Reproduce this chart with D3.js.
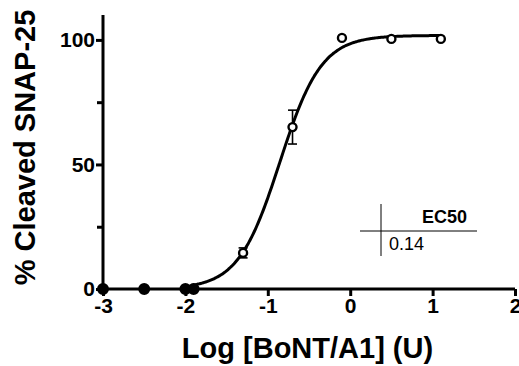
<!DOCTYPE html>
<html>
<head>
<meta charset="utf-8">
<script src="https://cdn.jsdelivr.net/npm/d3@7"></script>
<style>
  body { margin: 0; background: #fff; }
  text { font-family: "Liberation Sans", Arial, sans-serif; }
</style>
</head>
<body>
<div id="chart"></div>
<script>
const W = 519, H = 366;

// measured points: log dose, % cleaved, SEM
const logDose = [-3, -2.5, -2.0, -1.9, -1.3, -0.7, -0.1, 0.5, 1.1];
const cleaved = [0, 0, 0, 0, 14.5, 65, 100.8, 100.4, 100.4];
const sem = [0, 0, 0, 0, 2, 6.8, 0, 0, 0];

// 4PL fit
const fitBottom = 0, fitTop = 101.8, logEC50 = Math.log10(0.14), hill = 1.72;
const fitRange = [-1.92, 1.1];

const xTicks = [-3, -2, -1, 0, 1, 2];
const yTicks = [0, 50, 100];
const yMinor = [25, 75];

const x = d3.scaleLinear().domain([-3, 2]).range([103, 515]);
const y = d3.scaleLinear().domain([0, 110]).range([289, 15]);

const svg = d3.select("#chart").append("svg")
  .attr("width", W).attr("height", H);

const fit = v => fitBottom + (fitTop - fitBottom) / (1 + Math.pow(10, (logEC50 - v) * hill));
const curvePts = d3.range(0, 201).map(i => {
  const v = fitRange[0] + (fitRange[1] - fitRange[0]) * i / 200;
  return [v, fit(v)];
});

// axes
const yAxis = svg.append("g")
  .attr("transform", `translate(${x(-3)},0)`)
  .call(d3.axisLeft(y).tickValues(yTicks).tickSize(7).tickPadding(1).tickFormat(d => String(d)));
svg.append("g")
  .attr("transform", `translate(${x(-3)},0)`)
  .call(d3.axisLeft(y).tickValues(yMinor).tickSize(6).tickFormat(""))
  .call(g => g.select(".domain").remove());
const xAxis = svg.append("g")
  .attr("transform", `translate(0,${y(0)})`)
  .call(d3.axisBottom(x).tickValues(xTicks).tickSize(7).tickPadding(2).tickFormat(d => String(d)));

svg.selectAll(".domain").attr("stroke", "#000").attr("stroke-width", 3);
svg.selectAll(".tick line").attr("stroke", "#000").attr("stroke-width", 3);
svg.selectAll(".tick text")
  .attr("fill", "#000")
  .style("font-size", "21px")
  .style("font-weight", "bold")
  .style("font-family", "'Liberation Sans', Arial, sans-serif");
yAxis.selectAll(".domain").attr("d", `M0,${y(110)}V${y(0)}`);
xAxis.selectAll(".domain").attr("d", `M${x(-3)},0H${x(2)}`);

// fit curve
svg.append("path")
  .datum(curvePts)
  .attr("fill", "none")
  .attr("stroke", "#000")
  .attr("stroke-width", 3)
  .attr("d", d3.line().x(d => x(d[0])).y(d => y(d[1])).curve(d3.curveBasis));

// error bars
const pts = logDose.map((v, i) => ({ v, c: cleaved[i], e: sem[i] }));
const eb = svg.append("g").attr("stroke", "#000").attr("stroke-width", 1.6);
pts.filter(p => p.e > 0).forEach(p => {
  eb.append("line").attr("x1", x(p.v)).attr("x2", x(p.v)).attr("y1", y(p.c - p.e)).attr("y2", y(p.c + p.e));
  [p.c - p.e, p.c + p.e].forEach(val => {
    eb.append("line").attr("x1", x(p.v) - 4.5).attr("x2", x(p.v) + 4.5).attr("y1", y(val)).attr("y2", y(val));
  });
});

// points
svg.append("g").selectAll("circle")
  .data(pts)
  .join("circle")
  .attr("cx", p => x(p.v))
  .attr("cy", p => y(p.c))
  .attr("r", p => p.c === 0 ? 4.8 : 4)
  .attr("fill", p => p.c === 0 ? "#000" : "#fff")
  .attr("stroke", "#000")
  .attr("stroke-width", 2.4);

// axis titles
svg.append("text")
  .attr("transform", `translate(35,147.5) rotate(-90)`)
  .attr("text-anchor", "middle")
  .style("font-size", "29px").style("font-weight", "bold")
  .text("% Cleaved SNAP-25");
svg.append("text")
  .attr("x", 307.5).attr("y", 358)
  .attr("text-anchor", "middle")
  .style("font-size", "29px").style("font-weight", "bold")
  .text("Log [BoNT/A1] (U)");

// EC50 table
const tbl = svg.append("g");
tbl.append("line").attr("x1", 381).attr("x2", 381).attr("y1", 204).attr("y2", 256)
  .attr("stroke", "#000").attr("stroke-width", 1);
tbl.append("line").attr("x1", 360).attr("x2", 477).attr("y1", 231).attr("y2", 231)
  .attr("stroke", "#000").attr("stroke-width", 1);
tbl.append("text").attr("x", 467).attr("y", 223).attr("text-anchor", "end")
  .style("font-size", "18px").style("font-weight", "bold").text("EC50");
tbl.append("text").attr("x", 389).attr("y", 250)
  .style("font-size", "18px").text("0.14");
</script>
</body>
</html>
